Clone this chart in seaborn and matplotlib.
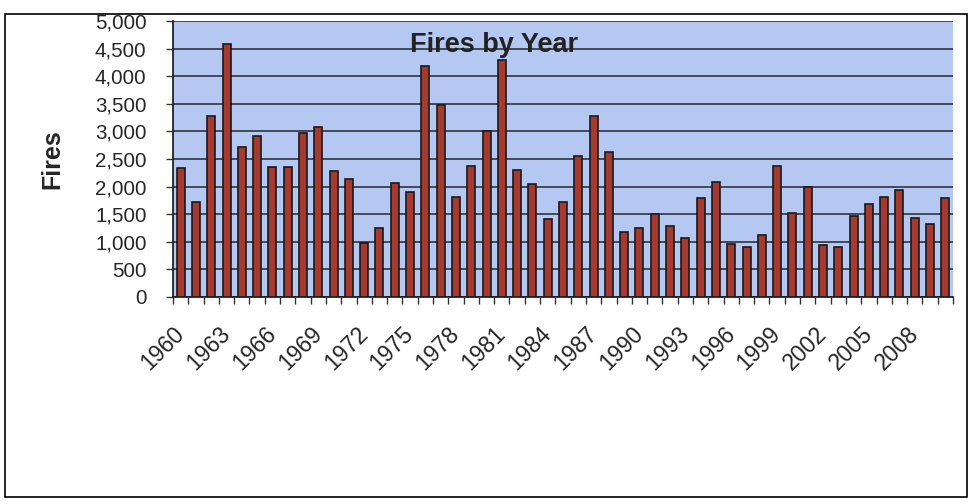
import matplotlib
matplotlib.use("Agg")
import matplotlib.pyplot as plt
import seaborn as sns
import pandas as pd
from matplotlib.patches import Rectangle

years = list(range(1960, 2011))
fires = [2340, 1715, 3275, 4580, 2715, 2910, 2360, 2350, 2970, 3075,
         2290, 2140, 970, 1245, 2070, 1900, 4190, 3480, 1810, 2370,
         3000, 4290, 2300, 2040, 1410, 1720, 2550, 3280, 2630, 1170,
         1250, 1500, 1280, 1060, 1790, 2080, 960, 900, 1120, 2370,
         1520, 1990, 950, 900, 1460, 1680, 1820, 1940, 1440, 1330, 1790]
title = "Fires by Year"
ylabel = "Fires"
yticks = [0, 500, 1000, 1500, 2000, 2500, 3000, 3500, 4000, 4500, 5000]

df = pd.DataFrame({"Year": [str(y) for y in years], "Fires": fires})

sns.set_style("white")
plt.rcParams['font.family'] = ['Liberation Sans', 'DejaVu Sans']

W, H = 973, 504
fig = plt.figure(figsize=(W / 100, H / 100), dpi=100)
fig.patch.set_facecolor("white")
ax = fig.add_axes([173 / W, 1 - 297 / H, 780 / W, 276 / H])
ax.set_facecolor("#b4c8f2")

sns.barplot(data=df, x="Year", y="Fires", ax=ax, color="#a53a30",
            edgecolor="#1a1a1a", linewidth=1.2, width=0.52, saturation=1,
            zorder=3)

ax.set_xlim(-0.5, len(years) - 0.5)
ax.set_ylim(0, 5000)
ax.set_yticks(yticks)
ax.set_yticklabels([f"{v:,}" for v in yticks], fontsize=14.8)
ax.yaxis.grid(True, color="#3a3f4a", linewidth=1.3, zorder=1)
ax.set_axisbelow(True)

idx = list(range(0, len(years), 3))
ax.set_xticks(idx)
ax.set_xticklabels([str(years[i]) for i in idx], rotation=45, ha="right",
                   rotation_mode="anchor", fontsize=16.5)
ax.set_xticks([i - 0.5 for i in range(len(years) + 1)], minor=True)
ax.tick_params(axis="x", which="major", length=0, pad=24)
ax.tick_params(axis="x", which="minor", length=5, width=1, color="#333333",
               direction="out", bottom=True)
ax.tick_params(axis="y", which="major", length=5, width=1, color="#333333",
               direction="out", left=True, pad=14)
for lab in ax.get_xticklabels():
    lab.set_verticalalignment("center")

for s in ["top", "right"]:
    ax.spines[s].set_visible(False)
ax.spines["left"].set_color("#222222")
ax.spines["bottom"].set_color("#222222")
ax.spines["left"].set_linewidth(1.3)
ax.spines["bottom"].set_linewidth(1.3)

ax.set_xlabel("")
ax.set_ylabel(ylabel, fontsize=18, fontweight="bold", labelpad=22)
ax.text(0.412, 0.912, title, transform=ax.transAxes, ha="center",
        va="center", fontsize=19.5, fontweight="bold", color="#222222",
        zorder=5)

fig.add_artist(Rectangle((5 / W, 1 - 497 / H), 962 / W, 483 / H,
                         transform=fig.transFigure, fill=False,
                         edgecolor="black", linewidth=1.2))

fig.savefig("out.png", dpi=100)
